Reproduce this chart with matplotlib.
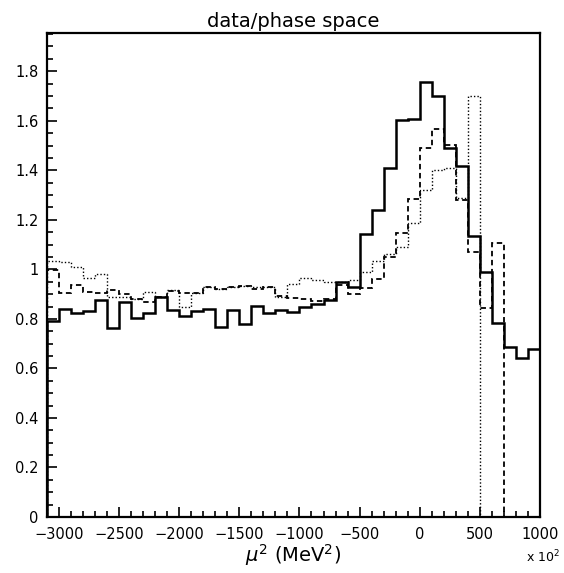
import numpy as np
import matplotlib
matplotlib.use('Agg')
import matplotlib.pyplot as plt
from matplotlib.ticker import MultipleLocator

# bin edges in units of 10^2 MeV^2
edges = np.arange(-3100, 1001, 100)

# data / phase space ratios, one value per bin
solid = [0.79, 0.84, 0.825, 0.833, 0.875, 0.762, 0.868, 0.805, 0.822, 0.89,
         0.836, 0.812, 0.832, 0.839, 0.769, 0.837, 0.78, 0.854, 0.823, 0.837,
         0.828, 0.85, 0.859, 0.877, 0.95, 0.93, 1.143, 1.238, 1.409, 1.604,
         1.609, 1.755, 1.70, 1.492, 1.418, 1.134, 0.991, 0.783, 0.688, 0.644,
         0.678]
dashed = [0.998, 0.906, 0.935, 0.91, 0.906, 0.918, 0.902, 0.88, 0.87, 0.888,
          0.914, 0.906, 0.906, 0.928, 0.92, 0.928, 0.933, 0.92, 0.928, 0.893,
          0.883, 0.88, 0.874, 0.88, 0.935, 0.90, 0.925, 0.96, 1.05, 1.146,
          1.284, 1.49, 1.567, 1.503, 1.282, 1.07, 0.843, 1.106, 0, 0,
          0]
dotted = [1.033, 1.03, 1.008, 0.966, 0.981, 0.89, 0.889, 0.88, 0.91, 0.89,
          0.917, 0.85, 0.906, 0.928, 0.92, 0.93, 0.933, 0.93, 0.93, 0.89,
          0.942, 0.964, 0.955, 0.95, 0.948, 0.956, 0.988, 1.032, 1.06, 1.09,
          1.189, 1.319, 1.402, 1.409, 1.288, 1.701, 0, 0, 0, 0,
          0]

plt.rcParams['font.family'] = ['DejaVu Sans']

fig = plt.figure(figsize=(5.64, 5.73), dpi=100)
ax = fig.add_axes([0.0833, 0.0977, 0.874, 0.845])

ax.stairs(dotted, edges, color='black', linewidth=1.0, linestyle=(0, (1, 1.5)))
ax.stairs(dashed, edges, color='black', linewidth=1.3, linestyle=(0, (3, 2)))
ax.stairs(solid, edges, color='black', linewidth=1.8)

ax.set_xlim(-3100, 1000)
ax.set_ylim(0, 1.955)

ax.xaxis.set_major_locator(MultipleLocator(500))
ax.xaxis.set_minor_locator(MultipleLocator(100))
ax.yaxis.set_major_locator(MultipleLocator(0.2))
ax.yaxis.set_minor_locator(MultipleLocator(0.05))
ax.yaxis.set_major_formatter(plt.FuncFormatter(lambda v, p: '0' if v == 0 else ('1' if abs(v - 1) < 1e-9 else f'{v:.1f}')))

ax.tick_params(which='both', direction='in', top=False, right=False,
               labelsize=10.5, width=1.2)
ax.tick_params(which='major', length=7)
ax.tick_params(which='minor', length=4)
ax.tick_params(axis='x', pad=7)
ax.tick_params(axis='y', pad=6)

for s in ax.spines.values():
    s.set_linewidth(1.6)

ax.set_title('data/phase space', fontsize=14, pad=4)
ax.set_xlabel(r'$\mu^2$ (MeV$^2$)', fontsize=14, labelpad=0)
fig.text(0.962, 0.018, r'x 10$^2$', fontsize=9, ha='center')

fig.savefig('out.png', dpi=100)
